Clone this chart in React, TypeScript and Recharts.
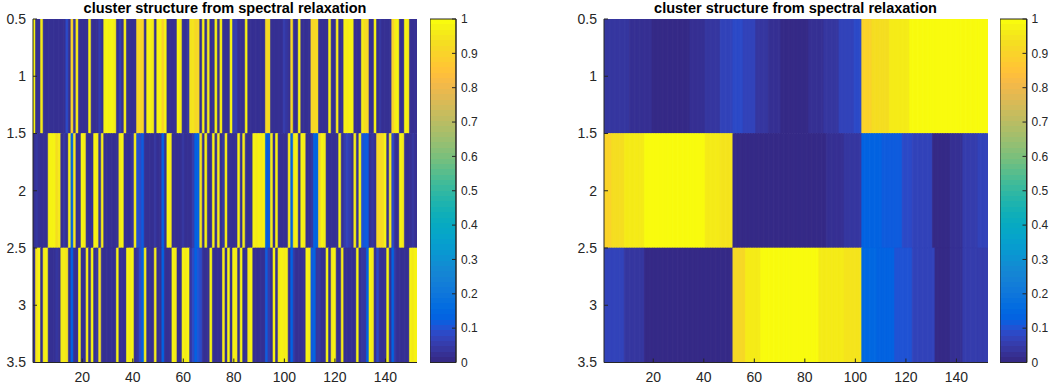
import React from 'react';
import { Bar, BarChart, Cell, XAxis, YAxis } from 'recharts';

// column index of the 152 items (x categories)
const COLUMNS: number[] = Array.from({ length: 152 }, (_, i) => i + 1);
const X_TICKS = [20, 40, 60, 80, 100, 120, 140];
const Y_TICKS = [0.5, 1, 1.5, 2, 2.5, 3, 3.5];
const CB_TICKS = [0, 0.1, 0.2, 0.3, 0.4, 0.5, 0.6, 0.7, 0.8, 0.9, 1];
const TITLE = 'cluster structure from spectral relaxation';

// left panel: membership value of each column in cluster 1..3
const LEFT_ROW1 = [
  .97, .02, .03, .96, .02, .03, .02, .02, .03, .02,
  .02, .03, .02, .08, .02, .9, .04, .96, .02, .03,
  .02, .03, .97, .02, .03, .02, .06, .03, .97, .98,
  .97, .98, .96, .02, .06, .03, .96, .02, .03, .02,
  .03, .92, .92, .9, .03, .97, .98, .96, .02, .97,
  .98, .9, .97, .02, .03, .02, .03, .97, .96, .02,
  .03, .04, .95, .94, .92, .92, .03, .97, .02, .96,
  .03, .02, .97, .03, .96, .02, .03, .02, .97, .06,
  .05, .02, .03, .02, .97, .02, .03, .02, .03, .02,
  .03, .02, .92, .93, .03, .02, .03, .02, .03, .05,
  .04, .02, .92, .03, .02, .97, .03, .02, .03, .02,
  .92, .92, .93, .03, .02, .03, .02, .97, .03, .02,
  .96, .02, .03, .97, .96, .97, .98, .02, .03, .02,
  .96, .93, .92, .02, .03, .97, .03, .04, .02, .03,
  .02, .03, .9, .96, .97, .02, .03, .97, .96, .03,
  .02, .03,
];
const LEFT_ROW2 = [
  .03, .04, .02, .02, .03, .02, .97, .98, .97, .93,
  .96, .02, .04, .03, .97, .14, .95, .03, .03, .97,
  .96, .02, .02, .03, .97, .96, .04, .96, .02, .03,
  .02, .02, .03, .03, .96, .97, .02, .03, .02, .04,
  .96, .1, .08, .12, .02, .03, .02, .03, .04, .02,
  .03, .14, .02, .97, .96, .03, .02, .03, .02, .04,
  .03, .02, .03, .06, .14, .13, .95, .02, .97, .03,
  .02, .97, .02, .96, .03, .04, .96, .03, .02, .02,
  .03, .97, .02, .96, .03, .03, .02, .97, .96, .97,
  .96, .97, .14, .11, .96, .03, .97, .03, .02, .03,
  .02, .96, .14, .96, .97, .02, .97, .96, .02, .03,
  .04, .14, .13, .92, .97, .96, .03, .02, .02, .03,
  .03, .97, .02, .06, .07, .05, .03, .96, .02, .97,
  .1, .12, .12, .03, .04, .02, .92, .92, .93, .97,
  .03, .96, .08, .03, .02, .97, .96, .03, .02, .02,
  .04, .03,
];
const LEFT_ROW3 = [
  .02, .95, .97, .03, .96, .97, .02, .02, .02, .04,
  .03, .96, .96, .95, .02, .13, .03, .02, .97, .02,
  .03, .96, .03, .97, .02, .04, .95, .02, .03, .02,
  .03, .02, .02, .97, .02, .03, .03, .97, .96, .97,
  .02, .04, .08, .14, .96, .02, .03, .02, .96, .02,
  .02, .13, .03, .02, .03, .97, .96, .02, .03, .97,
  .96, .97, .04, .08, .13, .1, .08, .03, .02, .02,
  .97, .03, .02, .03, .02, .96, .03, .97, .03, .97,
  .96, .02, .97, .03, .02, .96, .97, .03, .02, .03,
  .02, .03, .12, .06, .02, .97, .02, .96, .97, .96,
  .97, .03, .13, .04, .03, .02, .02, .03, .97, .96,
  .12, .14, .04, .04, .03, .02, .97, .03, .96, .97,
  .02, .03, .96, .02, .03, .02, .02, .03, .97, .03,
  .04, .04, .14, .97, .96, .03, .08, .03, .03, .02,
  .97, .03, .14, .04, .03, .03, .02, .02, .03, .97,
  .96, .98,
];

// right panel, sorted columns: [value, number of columns]
const RIGHT_ROW1_RUNS: [number, number][] = [
  [.045, 10], [.03, 9], [0, 15], [.03, 6], [.045, 6], [.065, 5], [.085, 4], [.07, 5],
  [.045, 5], [.03, 5], [.005, 11], [.025, 6], [.045, 6], [.065, 6], [.085, 3],
  [.9, 4], [.93, 7], [.96, 8], [.99, 31],
];
const RIGHT_ROW2_RUNS: [number, number][] = [
  [.9, 3], [.93, 5], [.96, 8], [.99, 24], [.965, 6], [.94, 5], [0, 37], [.03, 7], [.045, 7],
  [.13, 8], [.115, 8], [.09, 4], [.065, 8], [0, 7], [.03, 5], [.055, 6], [.075, 4],
];
const RIGHT_ROW3_RUNS: [number, number][] = [
  [.065, 8], [.04, 8], [0, 35], [.92, 5], [.96, 6], [.99, 23], [.965, 10], [.94, 7],
  [.15, 6], [.13, 7], [.105, 7], [.065, 9], [0, 6], [.03, 5], [.055, 6], [.06, 4],
];

// MATLAB parula, 64 entries
const PARULA: number[][] = [
  [0.2081, 0.1663, 0.5292], [0.2116, 0.1898, 0.5777], [0.2123, 0.2138, 0.627], [0.2081, 0.2386, 0.6771],
  [0.1959, 0.2645, 0.7279], [0.1707, 0.2919, 0.7792], [0.1253, 0.3242, 0.8303], [0.0591, 0.3598, 0.8683],
  [0.0117, 0.3875, 0.882], [0.006, 0.4086, 0.8828], [0.0165, 0.4266, 0.8786], [0.0329, 0.443, 0.872],
  [0.0498, 0.4586, 0.8641], [0.0629, 0.4737, 0.8554], [0.0723, 0.4887, 0.8467], [0.0779, 0.504, 0.8384],
  [0.0793, 0.52, 0.8312], [0.0749, 0.5375, 0.8263], [0.0641, 0.557, 0.824], [0.0488, 0.5772, 0.8228],
  [0.0343, 0.5966, 0.8199], [0.0265, 0.6137, 0.8135], [0.0239, 0.6287, 0.8038], [0.0231, 0.6418, 0.7913],
  [0.0228, 0.6535, 0.7768], [0.0267, 0.6642, 0.7607], [0.0384, 0.6743, 0.7436], [0.059, 0.6838, 0.7254],
  [0.0843, 0.6928, 0.7062], [0.1133, 0.7015, 0.6859], [0.1453, 0.7098, 0.6646], [0.1801, 0.7177, 0.6424],
  [0.2178, 0.725, 0.6193], [0.2586, 0.7317, 0.5954], [0.3022, 0.7376, 0.5712], [0.3482, 0.7424, 0.5473],
  [0.3953, 0.7459, 0.5244], [0.442, 0.7481, 0.5033], [0.4871, 0.7491, 0.484], [0.53, 0.7491, 0.4661],
  [0.5709, 0.7485, 0.4494], [0.6099, 0.7473, 0.4337], [0.6473, 0.7456, 0.4188], [0.6834, 0.7435, 0.4044],
  [0.7184, 0.7411, 0.3905], [0.7525, 0.7384, 0.3768], [0.7858, 0.7356, 0.3633], [0.8185, 0.7327, 0.3498],
  [0.8507, 0.7299, 0.336], [0.8824, 0.7274, 0.3217], [0.9139, 0.7258, 0.3063], [0.945, 0.7261, 0.2886],
  [0.9739, 0.7314, 0.2666], [0.9938, 0.7455, 0.2403], [0.999, 0.7653, 0.2164], [0.9955, 0.7861, 0.1967],
  [0.988, 0.8066, 0.1794], [0.9789, 0.8271, 0.1633], [0.9697, 0.8481, 0.1475], [0.9626, 0.8705, 0.1309],
  [0.9589, 0.8949, 0.1132], [0.9598, 0.9218, 0.0948], [0.9661, 0.9514, 0.0755], [0.9763, 0.9831, 0.0538],
];

const FONT = '"Liberation Sans", Arial, Helvetica, sans-serif';
const INK = '#262626';
const PLOT_TOP = 19;
const PLOT_BOTTOM = 362.5;
const PLOT_W = 384;

function rgb(c: number[]) {
  return `rgb(${Math.round(c[0] * 255)},${Math.round(c[1] * 255)},${Math.round(c[2] * 255)})`;
}

function parula(v: number) {
  const idx = Math.max(0, Math.min(63, Math.floor(v * 64)));
  return rgb(PARULA[idx]);
}

function expandRuns(runs: [number, number][]) {
  const out: number[] = [];
  runs.forEach(([value, count]) => {
    for (let i = 0; i < count; i++) out.push(value);
  });
  return out;
}

const tickStyle = { fill: INK, fontSize: 14, fontFamily: FONT };

function Heatmap({ rows, left }: { rows: number[][]; left: number }) {
  const data = COLUMNS.map((col, i) => ({
    col,
    base: 0.5,
    r1: 1,
    r2: 1,
    r3: 1,
    v1: rows[0][i],
    v2: rows[1][i],
    v3: rows[2][i],
  }));
  const keys = [['r1', 'v1'], ['r2', 'v2'], ['r3', 'v3']];

  return (
    <div style={{ position: 'absolute', left: left - 33, top: 0 }}>
      <div
        style={{
          position: 'absolute',
          left: 33,
          top: 0,
          width: PLOT_W,
          textAlign: 'center',
          fontFamily: FONT,
          fontWeight: 'bold',
          fontSize: 14.5,
          lineHeight: '16px',
          color: '#000',
          whiteSpace: 'nowrap',
        }}
      >
        {TITLE}
      </div>
      <BarChart
        width={33 + PLOT_W + 2}
        height={390}
        data={data}
        margin={{ top: PLOT_TOP, right: 2, bottom: 390 - PLOT_BOTTOM - 20, left: 3 }}
        barCategoryGap={0}
        barGap={0}
      >
        <XAxis
          type="number"
          dataKey="col"
          domain={[0.5, 152.5]}
          ticks={X_TICKS}
          allowDataOverflow
          height={20}
          tickSize={-4}
          tickMargin={14}
          stroke={INK}
          tick={tickStyle}
        />
        <XAxis
          xAxisId="top"
          orientation="top"
          type="number"
          domain={[0.5, 152.5]}
          ticks={X_TICKS}
          allowDataOverflow
          height={0}
          tickSize={-4}
          tickFormatter={() => ''}
          stroke={INK}
        />
        <YAxis
          type="number"
          domain={[0.5, 3.5]}
          reversed
          allowDataOverflow
          ticks={Y_TICKS}
          width={30}
          tickSize={-4}
          tickMargin={11}
          stroke={INK}
          tick={tickStyle}
        />
        <YAxis
          yAxisId="right"
          orientation="right"
          type="number"
          domain={[0.5, 3.5]}
          reversed
          allowDataOverflow
          ticks={Y_TICKS}
          width={0}
          tickSize={-4}
          tickFormatter={() => ''}
          stroke={INK}
        />
        <Bar dataKey="base" stackId="m" fill="none" isAnimationActive={false} />
        {keys.map(([k, v]) => (
          <Bar key={k} dataKey={k} stackId="m" isAnimationActive={false}>
            {data.map((d: any) => (
              <Cell key={d.col} fill={parula(d[v])} stroke={parula(d[v])} strokeWidth={0.6} />
            ))}
          </Bar>
        ))}
      </BarChart>
    </div>
  );
}

function Colorbar({ left, width, id }: { left: number; width: number; id: string }) {
  const stops: React.ReactNode[] = [];
  PARULA.forEach((c, i) => {
    stops.push(<stop key={`a${i}`} offset={i / 64} stopColor={rgb(c)} />);
    stops.push(<stop key={`b${i}`} offset={(i + 1) / 64} stopColor={rgb(c)} />);
  });
  return (
    <div style={{ position: 'absolute', left, top: 0 }}>
      <BarChart
        width={width + 40}
        height={390}
        data={[{ k: 'cb', v: 1 }]}
        margin={{ top: PLOT_TOP, right: 0, bottom: 390 - PLOT_BOTTOM, left: 0 }}
        barCategoryGap={0}
      >
        <defs>
          <linearGradient id={id} x1="0" y1="1" x2="0" y2="0">
            {stops}
          </linearGradient>
        </defs>
        <XAxis dataKey="k" hide />
        <YAxis
          orientation="right"
          type="number"
          domain={[0, 1]}
          ticks={CB_TICKS}
          width={40}
          tickSize={-4}
          tickMargin={9}
          stroke={INK}
          tick={{ fill: INK, fontSize: 12, fontFamily: FONT }}
        />
        <Bar dataKey="v" fill={`url(#${id})`} stroke={INK} strokeWidth={1} isAnimationActive={false} />
      </BarChart>
    </div>
  );
}

export default function App() {
  const rightRows = [expandRuns(RIGHT_ROW1_RUNS), expandRuns(RIGHT_ROW2_RUNS), expandRuns(RIGHT_ROW3_RUNS)];
  return (
    <div
      style={{
        position: 'absolute',
        left: 0,
        top: 0,
        width: 1052,
        height: 390,
        overflow: 'hidden',
        background: '#fff',
      }}
    >
      <Heatmap rows={[LEFT_ROW1, LEFT_ROW2, LEFT_ROW3]} left={33} />
      <Colorbar left={430} width={26} id="cbLeft" />
      <Heatmap rows={rightRows} left={603.5} />
      <Colorbar left={1000} width={26.5} id="cbRight" />
    </div>
  );
}
